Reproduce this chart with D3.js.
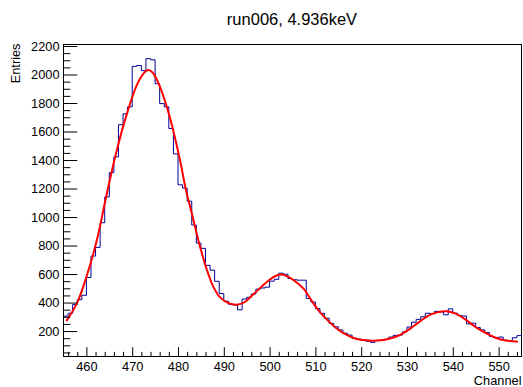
<!DOCTYPE html>
<html>
<head>
<meta charset="utf-8">
<script src="https://cdn.jsdelivr.net/npm/d3@7"></script>
<style>
  html, body { margin: 0; padding: 0; background: #fff; }
  svg { display: block; }
  text { font-family: "Liberation Sans", Arial, Helvetica, sans-serif; fill: #000; }
</style>
</head>
<body>
<svg id="chart" width="523" height="387"></svg>
<script>
// Histogram title and axis titles
const chartTitle = "run006, 4.936keV";
const xTitle = "Channel";
const yTitle = "Entries";

// Binning: one channel per bin, first bin starts at channel 455
const firstChannel = 455;
const binWidth = 1;

// Entries per bin, channels 455 .. 554
const counts = [
  305, 325, 386, 420, 451, 576, 726, 787, 960, 1141,
  1312, 1422, 1648, 1724, 1773, 2057, 2063, 2027, 2111, 2103,
  1935, 1796, 1773, 1621, 1443, 1226, 1203, 1111, 944, 817,
  780, 661, 627, 549, 463, 410, 388, 383, 349, 425,
  437, 460, 494, 502, 508, 550, 563, 606, 599, 569,
  560, 557, 557, 428, 404, 358, 324, 290, 254, 230,
  208, 185, 172, 150, 143, 139, 129, 121, 134, 134,
  142, 158, 170, 172, 195, 228, 262, 282, 300, 325,
  322, 338, 334, 314, 356, 326, 310, 305, 250, 255,
  225, 208, 190, 162, 155, 158, 136, 132, 153, 168
];

// Fitted curve, sampled along the channel axis
const fitChannels = [
  455.6, 458.0, 460.2, 462.3, 464.3, 466.3, 468.8, 471.0, 472.5, 473.5,
  474.5, 476.1, 478.3, 480.4, 481.7, 482.9, 484.7, 486.2, 487.7, 489.1,
  490.9, 493.1, 494.6, 496.4, 498.2, 500.0, 501.5, 502.6, 504.0, 506.2,
  507.6, 509.1, 510.9, 512.7, 514.5, 516.3, 518.5, 520.3, 521.9, 523.6,
  526.1, 528.3, 530.4, 532.6, 534.8, 536.9, 538.6, 540.6, 542.8, 545.0,
  547.2, 549.3, 551.5, 553.6, 554.2
];
const fitValues = [
  270, 400, 600, 840, 1140, 1425, 1720, 1925, 2008, 2031,
  2012, 1910, 1690, 1405, 1195, 1040, 806, 640, 512, 440,
  398, 386, 404, 456, 510, 560, 590, 597, 582, 534,
  490, 416, 336, 275, 222, 182, 150, 137, 133, 133,
  146, 170, 210, 263, 310, 334, 339, 322, 280, 228,
  186, 153, 134, 127, 125
];

// Axis ticks
const xMajorTicks = [460, 470, 480, 490, 500, 510, 520, 530, 540, 550];
const xMinorTicks = [456, 458, 462, 464, 466, 468, 472, 474, 476, 478, 482, 484, 486, 488,
  492, 494, 496, 498, 502, 504, 506, 508, 512, 514, 516, 518, 522, 524, 526, 528,
  532, 534, 536, 538, 542, 544, 546, 548, 552, 554];
const yMajorTicks = [200, 400, 600, 800, 1000, 1200, 1400, 1600, 1800, 2000, 2200];
const yMinorTicks = [50, 100, 150, 250, 300, 350, 450, 500, 550, 650, 700, 750, 850, 900, 950,
  1050, 1100, 1150, 1250, 1300, 1350, 1450, 1500, 1550, 1650, 1700, 1750, 1850, 1900, 1950,
  2050, 2100, 2150];

// Frame geometry
const frame = { left: 63.5, right: 521.5, top: 44.5, bottom: 356.5 };

const svg = d3.select("#chart");

const lastEdge = firstChannel + counts.length * binWidth;
const x = d3.scaleLinear().domain([firstChannel, lastEdge]).range([frame.left, frame.right]);

// Vertical range with a 5% margin around the data, as histogram viewers do
const cMin = d3.min(counts), cMax = d3.max(counts);
const margin = 0.05 * (cMax - cMin);
const y = d3.scaleLinear().domain([cMin - margin, cMax + margin]).range([frame.bottom, frame.top]);

// Frame
svg.append("rect")
  .attr("x", frame.left).attr("y", frame.top)
  .attr("width", frame.right - frame.left).attr("height", frame.bottom - frame.top)
  .attr("fill", "none").attr("stroke", "#000").attr("stroke-width", 1);

// Histogram outline (steps)
const stepPts = counts.map((c, i) => [firstChannel + i * binWidth, c]);
stepPts.push([lastEdge, counts[counts.length - 1]]);
svg.append("path")
  .datum(stepPts)
  .attr("fill", "none")
  .attr("stroke", "#000099")
  .attr("stroke-width", 1)
  .attr("d", d3.line().x(d => x(d[0])).y(d => y(d[1])).curve(d3.curveStepAfter));

// Fit curve
svg.append("path")
  .datum(fitChannels.map((c, i) => [c, fitValues[i]]))
  .attr("fill", "none")
  .attr("stroke", "#ff0000")
  .attr("stroke-width", 2)
  .attr("d", d3.line().x(d => x(d[0])).y(d => y(d[1])).curve(d3.curveCatmullRom));

// X axis: ticks pointing into the frame
const xTickLen = 9.3;
svg.append("g")
  .attr("transform", `translate(0,${frame.bottom})`)
  .call(d3.axisBottom(x).tickValues(xMinorTicks).tickSizeInner(-xTickLen / 2).tickSizeOuter(0).tickFormat(""))
  .call(g => g.select(".domain").remove());
svg.append("g")
  .attr("transform", `translate(0,${frame.bottom})`)
  .call(d3.axisBottom(x).tickValues(xMajorTicks).tickSizeInner(-xTickLen).tickSizeOuter(0).tickPadding(5).tickFormat(d3.format("d")))
  .call(g => g.select(".domain").remove())
  .call(g => g.selectAll("text").attr("font-size", 12.8).attr("font-family", null));

// Y axis
const yTickLen = 13.8;
svg.append("g")
  .attr("transform", `translate(${frame.left},0)`)
  .call(d3.axisLeft(y).tickValues(yMinorTicks).tickSizeInner(-yTickLen / 2).tickSizeOuter(0).tickFormat(""))
  .call(g => g.select(".domain").remove());
svg.append("g")
  .attr("transform", `translate(${frame.left},0)`)
  .call(d3.axisLeft(y).tickValues(yMajorTicks).tickSizeInner(-yTickLen).tickSizeOuter(0).tickPadding(4).tickFormat(d3.format("d")))
  .call(g => g.select(".domain").remove())
  .call(g => g.selectAll("text").attr("font-size", 12.8).attr("font-family", null));

svg.selectAll(".tick line").attr("stroke", "#000");

// Titles
svg.append("text")
  .attr("x", 292).attr("y", 25)
  .attr("text-anchor", "middle")
  .attr("font-size", 16.5)
  .text(chartTitle);

svg.append("text")
  .attr("x", frame.right).attr("y", 384.5)
  .attr("text-anchor", "end")
  .attr("font-size", 12.8)
  .text(xTitle);

svg.append("text")
  .attr("transform", `translate(19.5,${frame.top - 1}) rotate(-90)`)
  .attr("text-anchor", "end")
  .attr("font-size", 12.8)
  .text(yTitle);
</script>
</body>
</html>
